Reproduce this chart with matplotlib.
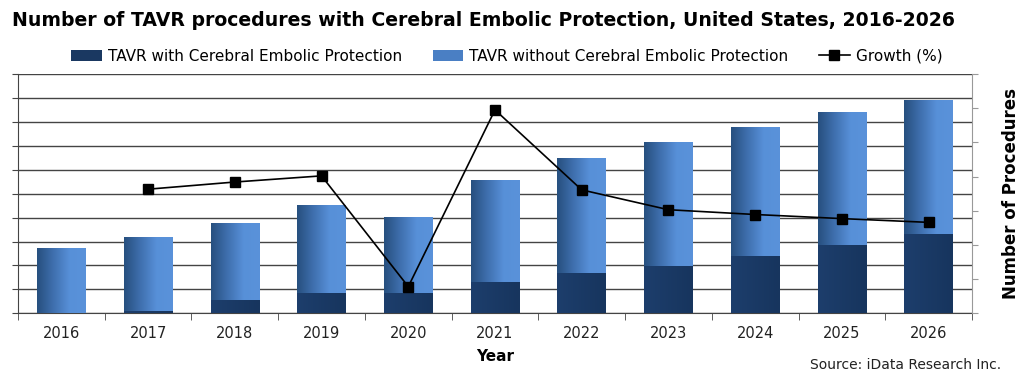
import numpy as np
import matplotlib
matplotlib.use('Agg')
import matplotlib.pyplot as plt
from matplotlib.colors import LinearSegmentedColormap

years = ['2016', '2017', '2018', '2019', '2020', '2021',
         '2022', '2023', '2024', '2025', '2026']
with_cep = [0.0, 0.11, 0.54, 0.86, 0.83, 1.29, 1.67, 1.99, 2.39, 2.86, 3.32]
totals = [2.74, 3.19, 3.77, 4.53, 4.01, 5.58, 6.47, 7.14, 7.79, 8.40, 8.92]
without_cep = [t - w for t, w in zip(totals, with_cep)]
growth_years = years[1:]
growth = [16.3, 18.4, 20.2, -12.2, 39.5, 16.1, 10.3, 8.9, 7.7, 6.6]

plt.rcParams['font.family'] = ['DejaVu Sans']

fig = plt.figure(figsize=(10.24, 3.8), dpi=100)
ax = fig.add_axes([0.0176, 0.1755, 0.9316, 0.6298])

x = np.arange(len(years))
w = 0.56
dark_cmap = LinearSegmentedColormap.from_list('dk', ['#1d3e6c', '#17355e'])
light_cmap = LinearSegmentedColormap.from_list('lt', ['#27507f', '#3f6fae', '#5790d8', '#5a92da'])

b1 = ax.bar(x, with_cep, w, color='#1a3861', label='TAVR with Cerebral Embolic Protection', zorder=3)
b2 = ax.bar(x, without_cep, w, bottom=with_cep, color='#4a7fc4',
            label='TAVR without Cerebral Embolic Protection', zorder=3)

# horizontal gradient inside each bar
grad = np.linspace(0, 1, 64).reshape(1, -1)
for bars, cm in ((b1, dark_cmap), (b2, light_cmap)):
    for p in bars:
        if p.get_height() <= 0:
            continue
        x0, y0 = p.get_x(), p.get_y()
        im = ax.imshow(grad, cmap=cm, aspect='auto', zorder=3.5,
                       extent=(x0, x0 + p.get_width(), y0, y0 + p.get_height()))
        im.set_clip_path(p)

ax.set_xlim(-0.5, len(years) - 0.5)
ax.set_ylim(0, 10)
ax.set_yticks(np.arange(0, 11, 1))
ax.set_yticklabels([])
ax.yaxis.grid(True, color='#444444', linewidth=1.0, zorder=0)
ax.set_axisbelow(True)
ax.tick_params(axis='y', length=4, color='#444444', direction='out')
ax.set_xticks(x)
ax.set_xticklabels(years, fontsize=10.5, color='#222222')
ax.set_xticks(np.arange(-0.5, len(years), 1), minor=True)
ax.tick_params(axis='x', which='major', length=0, pad=9)
ax.tick_params(axis='x', which='minor', length=5, color='#444444', direction='out')
ax.set_xlabel('Year', fontsize=11, fontweight='bold', labelpad=6)
ax.spines['top'].set_visible(False)
ax.spines['right'].set_visible(False)
ax.spines['left'].set_color('#444444')
ax.spines['bottom'].set_color('#444444')

ax2 = ax.twinx()
ax2.plot(x[1:], growth, color='black', linewidth=1.2, marker='s', markersize=7,
         label='Growth (%)', zorder=5)
ax2.set_ylim(-20, 50)
ax2.set_yticks(np.arange(-20, 51, 10))
ax2.set_yticklabels([])
ax2.tick_params(axis='y', length=4, color='#999999', direction='out')
ax2.spines['top'].set_visible(False)
ax2.spines['left'].set_visible(False)
ax2.spines['bottom'].set_visible(False)
ax2.spines['right'].set_color('#999999')
ax2.set_ylabel('Number of Procedures', fontsize=12, fontweight='bold', labelpad=14)

h1, l1 = ax.get_legend_handles_labels()
h2, l2 = ax2.get_legend_handles_labels()
fig.legend(h1 + h2, l1 + l2, loc='center', bbox_to_anchor=(0.495, 0.852), ncol=3,
           frameon=False, fontsize=11, handlelength=2.0, handletextpad=0.4,
           columnspacing=2.0)

fig.text(0.012, 0.945, 'Number of TAVR procedures with Cerebral Embolic Protection, United States, 2016-2026',
         fontsize=13.6, fontweight='bold', ha='left', va='center')
fig.text(0.978, 0.04, 'Source: iData Research Inc.', fontsize=10, ha='right', va='center', color='#222222')

fig.savefig('out.png', dpi=100)
